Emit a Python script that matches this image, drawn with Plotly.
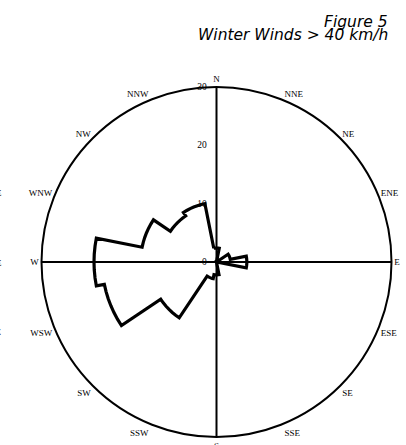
import numpy as np
import plotly.graph_objects as go

# ---- data ----
directions = ["N", "NNE", "NE", "ENE", "E", "ESE", "SE", "SSE",
              "S", "SSW", "SW", "WSW", "W", "WNW", "NW", "NNW"]
bearings = [0, 22.5, 45, 67.5, 90, 112.5, 135, 157.5,
            180, 202.5, 225, 247.5, 270, 292.5, 315, 337.5]
frequency = [2.4, 0, 0, 2.4, 5.2, 0, 0, 0,
             2.2, 2.9, 11.5, 19.6, 21.0, 13.0, 9.5, 10.2]
radial_ticks = [0, 10, 20, 30]
radial_max = 30
title_lines = ["Figure 5", "Winter Winds > 40 km/h"]

# ---- build the stepped rose outline from sector values ----
half = 360 / len(directions) / 2
r_path, t_path = [], []
for b, v in zip(bearings, frequency):
    if v > 0:
        for a in np.linspace(b - half, b + half, 7):
            r_path.append(v)
            t_path.append(a % 360)
    else:
        r_path.append(0)
        t_path.append(b)
r_path.append(r_path[0])
t_path.append(t_path[0])

fig = go.Figure()

# compass cross lines (N-S, W-E)
fig.add_trace(go.Scatterpolar(
    r=[radial_max, 0, radial_max], theta=[0, 0, 180],
    mode="lines", line=dict(color="black", width=2),
    hoverinfo="skip", showlegend=False))
fig.add_trace(go.Scatterpolar(
    r=[radial_max, 0, radial_max], theta=[90, 90, 270],
    mode="lines", line=dict(color="black", width=2),
    hoverinfo="skip", showlegend=False))

# rose outline
fig.add_trace(go.Scatterpolar(
    r=r_path, theta=t_path, mode="lines",
    line=dict(color="black", width=3.2),
    showlegend=False))

serif = "Liberation Serif, Times New Roman, serif"

W, H = 406, 445
cx, cy, R = 216.5, 262, 175
fig.update_layout(
    width=W, height=H,
    margin=dict(l=0, r=0, t=0, b=0),
    paper_bgcolor="white",
    showlegend=False,
    polar=dict(
        domain=dict(x=[(cx - R) / W, (cx + R) / W],
                    y=[(H - cy - R) / H, (H - cy + R) / H]),
        bgcolor="white",
        angularaxis=dict(
            direction="clockwise", rotation=90,
            tickmode="array", tickvals=bearings, ticktext=directions,
            showgrid=False, showline=True, linecolor="black", linewidth=2,
            ticks="", tickfont=dict(family=serif, size=9, color="black"),
        ),
        radialaxis=dict(
            range=[0, radial_max], angle=90, tickangle=90,
            side="counterclockwise",
            tickmode="array", tickvals=radial_ticks,
            showgrid=False, showline=False,
            ticks="outside", ticklen=6, tickcolor="rgba(0,0,0,0)",
            tickfont=dict(family=serif, size=9.5, color="black"),
        ),
    ),
)

sans = "DejaVu Sans, Liberation Sans, Arial, sans-serif"
fig.add_annotation(text="<i>%s</i>" % title_lines[0], xref="paper", yref="paper",
                   x=390 / W, y=1 - 22 / H, xanchor="right", yanchor="middle",
                   showarrow=False, font=dict(family=sans, size=15.5, color="black"))
fig.add_annotation(text="<i>%s</i>" % title_lines[1], xref="paper", yref="paper",
                   x=390 / W, y=1 - 35.3 / H, xanchor="right", yanchor="middle",
                   showarrow=False, font=dict(family=sans, size=15.5, color="black"))

# clipped label fragments from a neighbouring figure at the left edge
for txt, yy in [("ENE", 193), ("E", 263), ("ESE", 332)]:
    fig.add_annotation(text=txt, xref="paper", yref="paper",
                       x=4 / W, y=1 - yy / H, xanchor="right", yanchor="middle",
                       showarrow=False, font=dict(family=serif, size=9, color="black"))

fig.write_html("out.html", config={"displayModeBar": False},
               post_script="document.body.style.margin='0';document.body.style.overflow='hidden';")
